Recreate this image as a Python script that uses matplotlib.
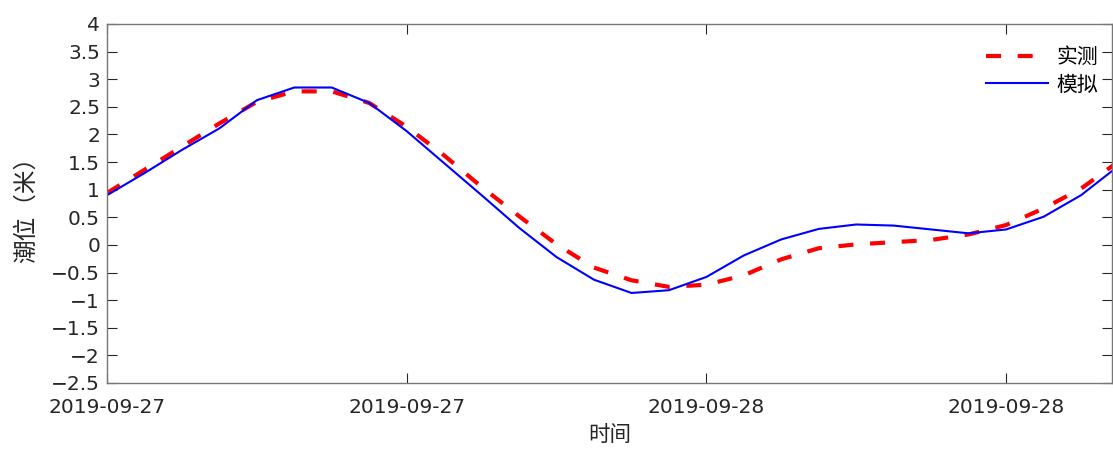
import matplotlib
matplotlib.use("Agg")
import matplotlib.pyplot as plt
import numpy as np

plt.rcParams['font.family'] = ['DejaVu Sans', 'Noto Sans CJK SC']

hours = list(range(28))
observed = [0.94, 1.36, 1.78, 2.20, 2.59, 2.78, 2.78, 2.57, 2.14, 1.62,
            1.05, 0.52, 0.01, -0.41, -0.64, -0.76, -0.72, -0.55, -0.26, -0.06,
            0.01, 0.05, 0.09, 0.19, 0.36, 0.66, 1.02, 1.51]
simulated = [0.90, 1.30, 1.72, 2.11, 2.62, 2.85, 2.85, 2.57, 2.06, 1.48,
             0.90, 0.31, -0.22, -0.63, -0.87, -0.82, -0.58, -0.19, 0.10, 0.29,
             0.37, 0.35, 0.28, 0.21, 0.28, 0.51, 0.90, 1.43]
xtick_pos = [0, 8, 16, 24]
xtick_labels = ['2019-09-27', '2019-09-27', '2019-09-28', '2019-09-28']
ytick_vals = [-2.5, -2, -1.5, -1, -0.5, 0, 0.5, 1, 1.5, 2, 2.5, 3, 3.5, 4]
ytick_labels = ['\u22122.5', '\u22122', '\u22121.5', '\u22121', '\u22120.5', '0', '0.5', '1',
                '1.5', '2', '2.5', '3', '3.5', '4']

fig = plt.figure(figsize=(11.13, 4.49), dpi=100)
ax = fig.add_axes([107/1113, 1-383/449, 1005/1113, 359/449])

ax.plot(hours, observed, color='red', lw=3.0, linestyle=(0, (3.6, 4.0)), label='实测')
ax.plot(hours, simulated, color='blue', lw=1.5, label='模拟')

ax.set_xlim(0, 1006/37.5)
ax.set_ylim(-2.5, 4)
ax.set_xticks(xtick_pos)
ax.set_xticklabels(xtick_labels, fontsize=14.5, color='#262626')
ax.set_yticks(ytick_vals)
ax.set_yticklabels(ytick_labels, fontsize=14.5, color='#262626')
ax.tick_params(direction='in', length=7, width=0.8, colors='#262626',
               top=True, right=True)
ax.tick_params(axis='x', pad=11)
ax.tick_params(axis='y', pad=5)
for s in ax.spines.values():
    s.set_color('#777777')
    s.set_linewidth(1.0)

cjk = ['Noto Sans CJK SC', 'DejaVu Sans']
ax.set_xlabel('时间', fontsize=15.5, family=cjk, color='#262626', labelpad=5)
ax.set_ylabel('潮位（米）', fontsize=17, family=cjk, color='#262626')
ax.yaxis.set_label_coords(-0.069, 0.5)

leg = ax.legend(loc='upper right', frameon=False, prop={'family': cjk, 'size': 15},
                handlelength=3.0, handletextpad=0.4, labelspacing=0.25,
                bbox_to_anchor=(1.005, 0.99))

fig.savefig('out.png', dpi=100)
